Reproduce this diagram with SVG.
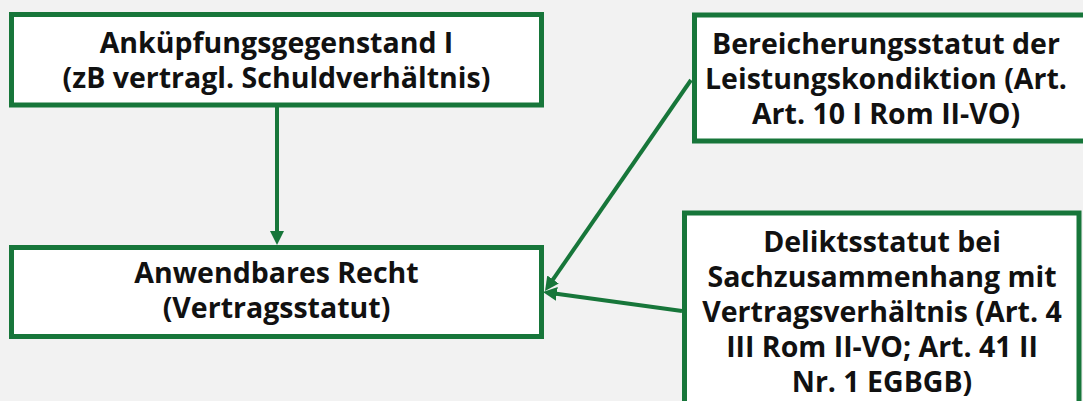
<svg xmlns="http://www.w3.org/2000/svg" width="1083" height="401" viewBox="0 0 1083 401">
<style>
.box{fill:#ffffff;stroke:#17763a;stroke-width:5}
.lbl{font-family:"Open Sans","Liberation Sans",sans-serif;font-weight:bold;font-size:28.5px;fill:#111111;text-anchor:middle}
.con{fill:none;stroke:#17763a;stroke-width:4}
</style>
<defs>
<marker id="ah" markerUnits="userSpaceOnUse" markerWidth="15" markerHeight="15" refX="6" refY="7" orient="auto">
<path d="M0,0 L14,7 L0,14 z" fill="#17763a"/>
</marker>
</defs>
<rect width="1083" height="401" fill="#f2f2f2"/>
<g id="connectors">
<line class="con" x1="277" y1="107" x2="277" y2="237" marker-end="url(#ah)"/>
<line class="con" x1="691" y1="80" x2="549.6" y2="284.4" marker-end="url(#ah)"/>
<line class="con" x1="682" y1="311" x2="550.9" y2="293.1" marker-end="url(#ah)"/>
</g>
<g id="n1">
<rect class="box" x="11.5" y="14.5" width="530" height="90.5"/>
<text class="lbl" x="276.5" y="53">Anküpfungsgegenstand I</text>
<text class="lbl" x="276.5" y="88">(zB vertragl. Schuldverhältnis)</text>
</g>
<g id="n2">
<rect class="box" x="11.5" y="247.5" width="530" height="89"/>
<text class="lbl" x="276.5" y="283">Anwendbares Recht</text>
<text class="lbl" x="276.5" y="318">(Vertragsstatut)</text>
</g>
<g id="n3">
<rect class="box" x="694.5" y="15" width="400" height="126"/>
<text class="lbl" x="886" y="54">Bereicherungsstatut der</text>
<text class="lbl" x="886" y="89">Leistungskondiktion (Art.</text>
<text class="lbl" x="886" y="124">Art. 10 I Rom II-VO)</text>
</g>
<g id="n4">
<rect class="box" x="684.5" y="213" width="394.5" height="200"/>
<text class="lbl" x="882" y="252">Deliktsstatut bei</text>
<text class="lbl" x="882" y="287">Sachzusammenhang mit</text>
<text class="lbl" x="882" y="322">Vertragsverhältnis (Art. 4</text>
<text class="lbl" x="882" y="357">III Rom II-VO; Art. 41 II</text>
<text class="lbl" x="882" y="392">Nr. 1 EGBGB)</text>
</g>
</svg>
